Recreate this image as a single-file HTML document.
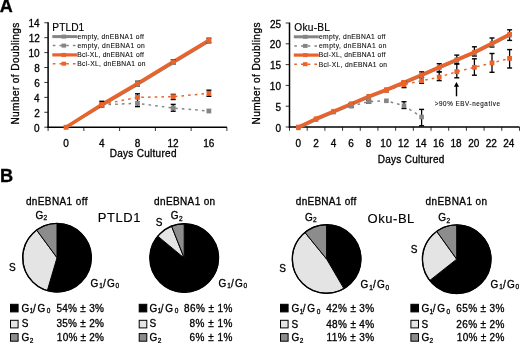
<!DOCTYPE html>
<html><head><meta charset="utf-8"><style>
html,body{margin:0;padding:0;background:#fff;}
body{width:520px;height:343px;overflow:hidden;font-family:"Liberation Sans", sans-serif;}
svg{display:block;will-change:transform;}
text{stroke:#000;stroke-width:0.3px;}
.sm{stroke-width:0.1px;fill:#111;}
.md{stroke-width:0.15px;}
</style></head><body>
<svg width="520" height="343" viewBox="0 0 520 343">
<rect width="520" height="343" fill="#fff"/>
<g font-family="&quot;Liberation Sans&quot;, sans-serif" fill="#000">
<text x="-0.25" y="12.40" font-size="18" font-weight="bold" >A</text>
<text x="-0.08" y="182.30" font-size="18.2" font-weight="bold" >B</text>
<line x1="48.10" y1="22.20" x2="48.10" y2="127.80" stroke="#000" stroke-width="1.5" />
<line x1="47.35" y1="127.20" x2="226.90" y2="127.20" stroke="#000" stroke-width="1.5" />
<line x1="44.30" y1="127.20" x2="48.10" y2="127.20" stroke="#000" stroke-width="0.8" />
<text x="39.66" y="131.70" font-size="10" text-anchor="end">0</text>
<line x1="44.30" y1="112.28" x2="48.10" y2="112.28" stroke="#000" stroke-width="0.8" />
<text x="39.81" y="116.78" font-size="10" text-anchor="end">2</text>
<line x1="44.30" y1="97.36" x2="48.10" y2="97.36" stroke="#000" stroke-width="0.8" />
<text x="39.61" y="101.86" font-size="10" text-anchor="end">4</text>
<line x1="44.30" y1="82.44" x2="48.10" y2="82.44" stroke="#000" stroke-width="0.8" />
<text x="39.71" y="86.94" font-size="10" text-anchor="end">6</text>
<line x1="44.30" y1="67.52" x2="48.10" y2="67.52" stroke="#000" stroke-width="0.8" />
<text x="39.71" y="72.02" font-size="10" text-anchor="end">8</text>
<line x1="44.30" y1="52.60" x2="48.10" y2="52.60" stroke="#000" stroke-width="0.8" />
<text x="39.67" y="57.10" font-size="10" text-anchor="end">10</text>
<line x1="44.30" y1="37.68" x2="48.10" y2="37.68" stroke="#000" stroke-width="0.8" />
<text x="39.82" y="42.18" font-size="10" text-anchor="end">12</text>
<line x1="44.30" y1="22.76" x2="48.10" y2="22.76" stroke="#000" stroke-width="0.8" />
<text x="39.62" y="27.26" font-size="10" text-anchor="end">14</text>
<line x1="48.10" y1="127.20" x2="48.10" y2="131.00" stroke="#000" stroke-width="0.8" />
<line x1="83.86" y1="127.20" x2="83.86" y2="131.00" stroke="#000" stroke-width="0.8" />
<line x1="119.62" y1="127.20" x2="119.62" y2="131.00" stroke="#000" stroke-width="0.8" />
<line x1="155.38" y1="127.20" x2="155.38" y2="131.00" stroke="#000" stroke-width="0.8" />
<line x1="191.14" y1="127.20" x2="191.14" y2="131.00" stroke="#000" stroke-width="0.8" />
<line x1="226.90" y1="127.20" x2="226.90" y2="131.00" stroke="#000" stroke-width="0.8" />
<text x="66.08" y="147.30" font-size="10" text-anchor="middle">0</text>
<text x="101.86" y="147.30" font-size="10" text-anchor="middle">4</text>
<text x="137.48" y="147.30" font-size="10" text-anchor="middle">8</text>
<text x="173.09" y="147.30" font-size="10" text-anchor="middle">12</text>
<text x="208.74" y="147.30" font-size="10" text-anchor="middle">16</text>
<polyline points="66.10,127.20 101.80,105.57 137.50,84.68 173.20,62.89 208.90,41.48" fill="none" stroke="#858585" stroke-width="2.6" stroke-linejoin="round"/>
<polyline points="101.80,104.82 137.50,103.33 173.20,108.03 208.90,111.01" fill="none" stroke="#858585" stroke-width="1.5" stroke-dasharray="2.6 4.1" stroke-linejoin="round"/>
<polyline points="66.10,127.20 101.80,104.52 137.50,83.48 173.20,61.70 208.90,40.29" fill="none" stroke="#e9632a" stroke-width="3.4" stroke-linejoin="round"/>
<polyline points="101.80,104.52 137.50,97.36 173.20,96.69 208.90,93.33" fill="none" stroke="#e9632a" stroke-width="1.5" stroke-dasharray="2.6 4.1" stroke-linejoin="round"/>
<line x1="101.80" y1="101.30" x2="101.80" y2="107.20" stroke="#000" stroke-width="1.3" />
<line x1="99.30" y1="101.30" x2="104.30" y2="101.30" stroke="#000" stroke-width="1.4" />
<line x1="99.30" y1="107.20" x2="104.30" y2="107.20" stroke="#000" stroke-width="1.4" />
<line x1="137.50" y1="81.30" x2="137.50" y2="86.00" stroke="#000" stroke-width="1.3" />
<line x1="135.00" y1="81.30" x2="140.00" y2="81.30" stroke="#000" stroke-width="1.4" />
<line x1="135.00" y1="86.00" x2="140.00" y2="86.00" stroke="#000" stroke-width="1.4" />
<line x1="137.50" y1="93.80" x2="137.50" y2="106.60" stroke="#000" stroke-width="1.3" />
<line x1="135.00" y1="93.80" x2="140.00" y2="93.80" stroke="#000" stroke-width="1.4" />
<line x1="135.00" y1="106.60" x2="140.00" y2="106.60" stroke="#000" stroke-width="1.4" />
<line x1="173.20" y1="104.40" x2="173.20" y2="111.20" stroke="#000" stroke-width="1.3" />
<line x1="170.70" y1="104.40" x2="175.70" y2="104.40" stroke="#000" stroke-width="1.4" />
<line x1="170.70" y1="111.20" x2="175.70" y2="111.20" stroke="#000" stroke-width="1.4" />
<line x1="173.20" y1="94.40" x2="173.20" y2="99.50" stroke="#000" stroke-width="1.3" />
<line x1="170.70" y1="94.40" x2="175.70" y2="94.40" stroke="#000" stroke-width="1.4" />
<line x1="170.70" y1="99.50" x2="175.70" y2="99.50" stroke="#000" stroke-width="1.4" />
<line x1="173.20" y1="59.80" x2="173.20" y2="64.00" stroke="#000" stroke-width="1.3" />
<line x1="170.70" y1="59.80" x2="175.70" y2="59.80" stroke="#000" stroke-width="1.4" />
<line x1="170.70" y1="64.00" x2="175.70" y2="64.00" stroke="#000" stroke-width="1.4" />
<line x1="208.90" y1="38.30" x2="208.90" y2="42.70" stroke="#000" stroke-width="1.3" />
<line x1="206.40" y1="38.30" x2="211.40" y2="38.30" stroke="#000" stroke-width="1.4" />
<line x1="206.40" y1="42.70" x2="211.40" y2="42.70" stroke="#000" stroke-width="1.4" />
<line x1="208.90" y1="90.20" x2="208.90" y2="96.30" stroke="#000" stroke-width="1.3" />
<line x1="206.40" y1="90.20" x2="211.40" y2="90.20" stroke="#000" stroke-width="1.4" />
<line x1="206.40" y1="96.30" x2="211.40" y2="96.30" stroke="#000" stroke-width="1.4" />
<rect x="63.90" y="125.00" width="4.40" height="4.40" fill="#858585"/>
<rect x="99.60" y="103.37" width="4.40" height="4.40" fill="#858585"/>
<rect x="135.30" y="82.48" width="4.40" height="4.40" fill="#858585"/>
<rect x="171.00" y="60.69" width="4.40" height="4.40" fill="#858585"/>
<rect x="206.70" y="39.28" width="4.40" height="4.40" fill="#858585"/>
<rect x="99.40" y="102.42" width="4.80" height="4.80" fill="#858585"/>
<rect x="135.10" y="100.93" width="4.80" height="4.80" fill="#858585"/>
<rect x="170.80" y="105.63" width="4.80" height="4.80" fill="#858585"/>
<rect x="206.50" y="108.61" width="4.80" height="4.80" fill="#858585"/>
<rect x="63.70" y="124.80" width="4.80" height="4.80" fill="#e9632a"/>
<rect x="99.40" y="102.12" width="4.80" height="4.80" fill="#e9632a"/>
<rect x="135.10" y="81.08" width="4.80" height="4.80" fill="#e9632a"/>
<rect x="170.80" y="59.30" width="4.80" height="4.80" fill="#e9632a"/>
<rect x="206.50" y="37.89" width="4.80" height="4.80" fill="#e9632a"/>
<rect x="99.40" y="102.12" width="4.80" height="4.80" fill="#e9632a"/>
<rect x="135.10" y="94.96" width="4.80" height="4.80" fill="#e9632a"/>
<rect x="170.80" y="94.29" width="4.80" height="4.80" fill="#e9632a"/>
<rect x="206.50" y="90.93" width="4.80" height="4.80" fill="#e9632a"/>
<text x="52.28" y="30.90" font-size="10.2" textLength="32.00" lengthAdjust="spacing" class="md">PTLD1</text>
<line x1="52.30" y1="36.60" x2="77.30" y2="36.60" stroke="#858585" stroke-width="3.0" />
<rect x="61.50" y="34.60" width="4.60" height="4.00" fill="#858585"/>
<text x="77.43" y="38.60" font-size="6.7" textLength="66.45" lengthAdjust="spacing" class="sm">empty, dnEBNA1 off</text>
<line x1="52.80" y1="45.60" x2="77.30" y2="45.60" stroke="#858585" stroke-width="1.5" stroke-dasharray="2.6 4.1"/>
<rect x="61.50" y="43.60" width="4.60" height="4.00" fill="#858585"/>
<text x="77.43" y="47.60" font-size="6.7" textLength="67.41" lengthAdjust="spacing" class="sm">empty, dnEBNA1 on</text>
<line x1="52.30" y1="54.90" x2="77.30" y2="54.90" stroke="#e9632a" stroke-width="3.2" />
<rect x="61.50" y="52.90" width="4.60" height="4.00" fill="#e9632a"/>
<text x="77.16" y="56.80" font-size="6.7" textLength="66.63" lengthAdjust="spacing" class="sm">Bcl-XL, dnEBNA1 off</text>
<line x1="52.80" y1="63.70" x2="77.30" y2="63.70" stroke="#e9632a" stroke-width="1.5" stroke-dasharray="2.6 4.1"/>
<rect x="61.50" y="61.70" width="4.60" height="4.00" fill="#e9632a"/>
<text x="77.16" y="66.30" font-size="6.7" textLength="68.29" lengthAdjust="spacing" class="sm">Bcl-XL, dnEBNA1 on</text>
<text x="0" y="0" font-size="10.1" textLength="101.95" lengthAdjust="spacing" transform="translate(18.70,124.61) rotate(-90)">Number of Doublings</text>
<text x="109.70" y="157.30" font-size="10" textLength="66.76" lengthAdjust="spacing" >Days Cultured</text>
<line x1="289.50" y1="22.60" x2="289.50" y2="127.60" stroke="#000" stroke-width="1.5" />
<line x1="288.75" y1="127.00" x2="519.47" y2="127.00" stroke="#000" stroke-width="1.5" />
<line x1="285.70" y1="127.00" x2="289.50" y2="127.00" stroke="#000" stroke-width="0.8" />
<text x="280.96" y="131.50" font-size="10" text-anchor="end">0</text>
<line x1="285.70" y1="106.20" x2="289.50" y2="106.20" stroke="#000" stroke-width="0.8" />
<text x="281.01" y="110.70" font-size="10" text-anchor="end">5</text>
<line x1="285.70" y1="85.40" x2="289.50" y2="85.40" stroke="#000" stroke-width="0.8" />
<text x="280.97" y="89.90" font-size="10" text-anchor="end">10</text>
<line x1="285.70" y1="64.60" x2="289.50" y2="64.60" stroke="#000" stroke-width="0.8" />
<text x="281.02" y="69.10" font-size="10" text-anchor="end">15</text>
<line x1="285.70" y1="43.80" x2="289.50" y2="43.80" stroke="#000" stroke-width="0.8" />
<text x="280.97" y="48.30" font-size="10" text-anchor="end">20</text>
<line x1="285.70" y1="23.00" x2="289.50" y2="23.00" stroke="#000" stroke-width="0.8" />
<text x="281.02" y="27.50" font-size="10" text-anchor="end">25</text>
<line x1="289.50" y1="127.00" x2="289.50" y2="130.80" stroke="#000" stroke-width="0.8" />
<line x1="307.19" y1="127.00" x2="307.19" y2="130.80" stroke="#000" stroke-width="0.8" />
<line x1="324.88" y1="127.00" x2="324.88" y2="130.80" stroke="#000" stroke-width="0.8" />
<line x1="342.57" y1="127.00" x2="342.57" y2="130.80" stroke="#000" stroke-width="0.8" />
<line x1="360.26" y1="127.00" x2="360.26" y2="130.80" stroke="#000" stroke-width="0.8" />
<line x1="377.95" y1="127.00" x2="377.95" y2="130.80" stroke="#000" stroke-width="0.8" />
<line x1="395.64" y1="127.00" x2="395.64" y2="130.80" stroke="#000" stroke-width="0.8" />
<line x1="413.33" y1="127.00" x2="413.33" y2="130.80" stroke="#000" stroke-width="0.8" />
<line x1="431.02" y1="127.00" x2="431.02" y2="130.80" stroke="#000" stroke-width="0.8" />
<line x1="448.71" y1="127.00" x2="448.71" y2="130.80" stroke="#000" stroke-width="0.8" />
<line x1="466.40" y1="127.00" x2="466.40" y2="130.80" stroke="#000" stroke-width="0.8" />
<line x1="484.09" y1="127.00" x2="484.09" y2="130.80" stroke="#000" stroke-width="0.8" />
<line x1="501.78" y1="127.00" x2="501.78" y2="130.80" stroke="#000" stroke-width="0.8" />
<line x1="519.47" y1="127.00" x2="519.47" y2="130.80" stroke="#000" stroke-width="0.8" />
<text x="298.38" y="147.30" font-size="10" text-anchor="middle">0</text>
<text x="315.95" y="147.30" font-size="10" text-anchor="middle">2</text>
<text x="333.54" y="147.30" font-size="10" text-anchor="middle">4</text>
<text x="350.98" y="147.30" font-size="10" text-anchor="middle">6</text>
<text x="368.54" y="147.30" font-size="10" text-anchor="middle">8</text>
<text x="385.91" y="147.30" font-size="10" text-anchor="middle">10</text>
<text x="403.53" y="147.30" font-size="10" text-anchor="middle">12</text>
<text x="420.97" y="147.30" font-size="10" text-anchor="middle">14</text>
<text x="438.56" y="147.30" font-size="10" text-anchor="middle">16</text>
<text x="456.10" y="147.30" font-size="10" text-anchor="middle">18</text>
<text x="473.74" y="147.30" font-size="10" text-anchor="middle">20</text>
<text x="491.35" y="147.30" font-size="10" text-anchor="middle">22</text>
<text x="508.79" y="147.30" font-size="10" text-anchor="middle">24</text>
<polyline points="298.40,128.04 316.00,119.72 333.60,112.23 351.20,104.74 368.80,97.26 386.40,90.60 404.00,83.32 421.60,75.83 439.20,68.14 456.80,60.65 474.40,53.16 492.00,44.42 509.60,35.27" fill="none" stroke="#858585" stroke-width="2.6" stroke-linejoin="round"/>
<polyline points="351.20,106.20 368.80,101.62 386.40,100.79 404.00,105.78 421.60,117.02" fill="none" stroke="#858585" stroke-width="1.5" stroke-dasharray="2.6 4.1" stroke-linejoin="round"/>
<polyline points="298.40,127.00 316.00,118.68 333.60,111.19 351.20,103.70 368.80,96.22 386.40,89.56 404.00,82.28 421.60,74.79 439.20,67.10 456.80,59.61 474.40,52.12 492.00,43.38 509.60,34.23" fill="none" stroke="#e9632a" stroke-width="3.4" stroke-linejoin="round"/>
<polyline points="386.40,90.39 404.00,84.57 421.60,80.82 439.20,77.08 456.80,71.67 474.40,67.30 492.00,62.94 509.60,58.36" fill="none" stroke="#e9632a" stroke-width="1.5" stroke-dasharray="2.6 4.1" stroke-linejoin="round"/>
<line x1="351.20" y1="103.20" x2="351.20" y2="107.20" stroke="#000" stroke-width="1.3" />
<line x1="348.70" y1="103.20" x2="353.70" y2="103.20" stroke="#000" stroke-width="1.4" />
<line x1="348.70" y1="107.20" x2="353.70" y2="107.20" stroke="#000" stroke-width="1.4" />
<line x1="368.80" y1="100.30" x2="368.80" y2="103.20" stroke="#000" stroke-width="1.3" />
<line x1="366.30" y1="100.30" x2="371.30" y2="100.30" stroke="#000" stroke-width="1.4" />
<line x1="366.30" y1="103.20" x2="371.30" y2="103.20" stroke="#000" stroke-width="1.4" />
<line x1="404.00" y1="101.70" x2="404.00" y2="108.50" stroke="#000" stroke-width="1.3" />
<line x1="401.50" y1="101.70" x2="406.50" y2="101.70" stroke="#000" stroke-width="1.4" />
<line x1="401.50" y1="108.50" x2="406.50" y2="108.50" stroke="#000" stroke-width="1.4" />
<line x1="421.60" y1="109.40" x2="421.60" y2="125.80" stroke="#000" stroke-width="1.3" />
<line x1="419.10" y1="109.40" x2="424.10" y2="109.40" stroke="#000" stroke-width="1.4" />
<line x1="419.10" y1="125.80" x2="424.10" y2="125.80" stroke="#000" stroke-width="1.4" />
<line x1="404.00" y1="81.20" x2="404.00" y2="87.60" stroke="#000" stroke-width="1.3" />
<line x1="401.50" y1="81.20" x2="406.50" y2="81.20" stroke="#000" stroke-width="1.4" />
<line x1="401.50" y1="87.60" x2="406.50" y2="87.60" stroke="#000" stroke-width="1.4" />
<line x1="421.60" y1="71.90" x2="421.60" y2="77.50" stroke="#000" stroke-width="1.3" />
<line x1="419.10" y1="71.90" x2="424.10" y2="71.90" stroke="#000" stroke-width="1.4" />
<line x1="419.10" y1="77.50" x2="424.10" y2="77.50" stroke="#000" stroke-width="1.4" />
<line x1="421.60" y1="77.50" x2="421.60" y2="83.30" stroke="#000" stroke-width="1.3" />
<line x1="419.10" y1="77.50" x2="424.10" y2="77.50" stroke="#000" stroke-width="1.4" />
<line x1="419.10" y1="83.30" x2="424.10" y2="83.30" stroke="#000" stroke-width="1.4" />
<line x1="439.20" y1="63.70" x2="439.20" y2="71.90" stroke="#000" stroke-width="1.3" />
<line x1="436.70" y1="63.70" x2="441.70" y2="63.70" stroke="#000" stroke-width="1.4" />
<line x1="436.70" y1="71.90" x2="441.70" y2="71.90" stroke="#000" stroke-width="1.4" />
<line x1="439.20" y1="71.90" x2="439.20" y2="80.60" stroke="#000" stroke-width="1.3" />
<line x1="436.70" y1="71.90" x2="441.70" y2="71.90" stroke="#000" stroke-width="1.4" />
<line x1="436.70" y1="80.60" x2="441.70" y2="80.60" stroke="#000" stroke-width="1.4" />
<line x1="456.80" y1="55.10" x2="456.80" y2="63.90" stroke="#000" stroke-width="1.3" />
<line x1="454.30" y1="55.10" x2="459.30" y2="55.10" stroke="#000" stroke-width="1.4" />
<line x1="454.30" y1="63.90" x2="459.30" y2="63.90" stroke="#000" stroke-width="1.4" />
<line x1="456.80" y1="63.90" x2="456.80" y2="77.80" stroke="#000" stroke-width="1.3" />
<line x1="454.30" y1="63.90" x2="459.30" y2="63.90" stroke="#000" stroke-width="1.4" />
<line x1="454.30" y1="77.80" x2="459.30" y2="77.80" stroke="#000" stroke-width="1.4" />
<line x1="474.40" y1="46.80" x2="474.40" y2="56.00" stroke="#000" stroke-width="1.3" />
<line x1="471.90" y1="46.80" x2="476.90" y2="46.80" stroke="#000" stroke-width="1.4" />
<line x1="471.90" y1="56.00" x2="476.90" y2="56.00" stroke="#000" stroke-width="1.4" />
<line x1="474.40" y1="58.80" x2="474.40" y2="75.20" stroke="#000" stroke-width="1.3" />
<line x1="471.90" y1="58.80" x2="476.90" y2="58.80" stroke="#000" stroke-width="1.4" />
<line x1="471.90" y1="75.20" x2="476.90" y2="75.20" stroke="#000" stroke-width="1.4" />
<line x1="492.00" y1="38.00" x2="492.00" y2="47.00" stroke="#000" stroke-width="1.3" />
<line x1="489.50" y1="38.00" x2="494.50" y2="38.00" stroke="#000" stroke-width="1.4" />
<line x1="489.50" y1="47.00" x2="494.50" y2="47.00" stroke="#000" stroke-width="1.4" />
<line x1="492.00" y1="53.50" x2="492.00" y2="72.30" stroke="#000" stroke-width="1.3" />
<line x1="489.50" y1="53.50" x2="494.50" y2="53.50" stroke="#000" stroke-width="1.4" />
<line x1="489.50" y1="72.30" x2="494.50" y2="72.30" stroke="#000" stroke-width="1.4" />
<line x1="509.60" y1="29.80" x2="509.60" y2="40.40" stroke="#000" stroke-width="1.3" />
<line x1="507.10" y1="29.80" x2="512.10" y2="29.80" stroke="#000" stroke-width="1.4" />
<line x1="507.10" y1="40.40" x2="512.10" y2="40.40" stroke="#000" stroke-width="1.4" />
<line x1="509.60" y1="49.60" x2="509.60" y2="68.00" stroke="#000" stroke-width="1.3" />
<line x1="507.10" y1="49.60" x2="512.10" y2="49.60" stroke="#000" stroke-width="1.4" />
<line x1="507.10" y1="68.00" x2="512.10" y2="68.00" stroke="#000" stroke-width="1.4" />
<rect x="296.20" y="125.84" width="4.40" height="4.40" fill="#858585"/>
<rect x="313.80" y="117.52" width="4.40" height="4.40" fill="#858585"/>
<rect x="331.40" y="110.03" width="4.40" height="4.40" fill="#858585"/>
<rect x="349.00" y="102.54" width="4.40" height="4.40" fill="#858585"/>
<rect x="366.60" y="95.06" width="4.40" height="4.40" fill="#858585"/>
<rect x="384.20" y="88.40" width="4.40" height="4.40" fill="#858585"/>
<rect x="401.80" y="81.12" width="4.40" height="4.40" fill="#858585"/>
<rect x="419.40" y="73.63" width="4.40" height="4.40" fill="#858585"/>
<rect x="437.00" y="65.94" width="4.40" height="4.40" fill="#858585"/>
<rect x="454.60" y="58.45" width="4.40" height="4.40" fill="#858585"/>
<rect x="472.20" y="50.96" width="4.40" height="4.40" fill="#858585"/>
<rect x="489.80" y="42.22" width="4.40" height="4.40" fill="#858585"/>
<rect x="507.40" y="33.07" width="4.40" height="4.40" fill="#858585"/>
<rect x="348.90" y="103.90" width="4.60" height="4.60" fill="#858585"/>
<rect x="366.50" y="99.32" width="4.60" height="4.60" fill="#858585"/>
<rect x="384.10" y="98.49" width="4.60" height="4.60" fill="#858585"/>
<rect x="401.70" y="103.48" width="4.60" height="4.60" fill="#858585"/>
<rect x="419.30" y="114.72" width="4.60" height="4.60" fill="#858585"/>
<rect x="296.10" y="124.70" width="4.60" height="4.60" fill="#e9632a"/>
<rect x="313.70" y="116.38" width="4.60" height="4.60" fill="#e9632a"/>
<rect x="331.30" y="108.89" width="4.60" height="4.60" fill="#e9632a"/>
<rect x="348.90" y="101.40" width="4.60" height="4.60" fill="#e9632a"/>
<rect x="366.50" y="93.92" width="4.60" height="4.60" fill="#e9632a"/>
<rect x="384.10" y="87.26" width="4.60" height="4.60" fill="#e9632a"/>
<rect x="401.70" y="79.98" width="4.60" height="4.60" fill="#e9632a"/>
<rect x="419.30" y="72.49" width="4.60" height="4.60" fill="#e9632a"/>
<rect x="436.90" y="64.80" width="4.60" height="4.60" fill="#e9632a"/>
<rect x="454.50" y="57.31" width="4.60" height="4.60" fill="#e9632a"/>
<rect x="472.10" y="49.82" width="4.60" height="4.60" fill="#e9632a"/>
<rect x="489.70" y="41.08" width="4.60" height="4.60" fill="#e9632a"/>
<rect x="507.30" y="31.93" width="4.60" height="4.60" fill="#e9632a"/>
<rect x="384.00" y="87.99" width="4.80" height="4.80" fill="#e9632a"/>
<rect x="401.60" y="82.17" width="4.80" height="4.80" fill="#e9632a"/>
<rect x="419.20" y="78.42" width="4.80" height="4.80" fill="#e9632a"/>
<rect x="436.80" y="74.68" width="4.80" height="4.80" fill="#e9632a"/>
<rect x="454.40" y="69.27" width="4.80" height="4.80" fill="#e9632a"/>
<rect x="472.00" y="64.90" width="4.80" height="4.80" fill="#e9632a"/>
<rect x="489.60" y="60.54" width="4.80" height="4.80" fill="#e9632a"/>
<rect x="507.20" y="55.96" width="4.80" height="4.80" fill="#e9632a"/>
<text x="294.24" y="30.90" font-size="10.2" textLength="35.77" lengthAdjust="spacing" class="md">Oku-BL</text>
<line x1="293.80" y1="36.80" x2="318.80" y2="36.80" stroke="#858585" stroke-width="3.0" />
<rect x="303.00" y="34.80" width="4.60" height="4.00" fill="#858585"/>
<text x="318.93" y="38.80" font-size="6.7" textLength="66.55" lengthAdjust="spacing" class="sm">empty, dnEBNA1 off</text>
<line x1="294.30" y1="45.90" x2="318.80" y2="45.90" stroke="#858585" stroke-width="1.5" stroke-dasharray="2.6 4.1"/>
<rect x="303.00" y="43.90" width="4.60" height="4.00" fill="#858585"/>
<text x="318.93" y="47.80" font-size="6.7" textLength="67.51" lengthAdjust="spacing" class="sm">empty, dnEBNA1 on</text>
<line x1="293.80" y1="55.10" x2="318.80" y2="55.10" stroke="#e9632a" stroke-width="3.2" />
<rect x="303.00" y="53.10" width="4.60" height="4.00" fill="#e9632a"/>
<text x="318.66" y="57.00" font-size="6.7" textLength="66.83" lengthAdjust="spacing" class="sm">Bcl-XL, dnEBNA1 off</text>
<line x1="294.30" y1="64.20" x2="318.80" y2="64.20" stroke="#e9632a" stroke-width="1.5" stroke-dasharray="2.6 4.1"/>
<rect x="303.00" y="62.20" width="4.60" height="4.00" fill="#e9632a"/>
<text x="318.66" y="66.50" font-size="6.7" textLength="68.29" lengthAdjust="spacing" class="sm">Bcl-XL, dnEBNA1 on</text>
<text x="0" y="0" font-size="10.1" textLength="101.95" lengthAdjust="spacing" transform="translate(260.00,124.51) rotate(-90)">Number of Doublings</text>
<text x="377.70" y="162.50" font-size="10" textLength="66.66" lengthAdjust="spacing" >Days Cultured</text>
<line x1="456.50" y1="85.50" x2="456.50" y2="96.30" stroke="#000" stroke-width="1.4" />
<path d="M453.9,86.8 L456.5,82.0 L459.1,86.8 Z" fill="#000"/>
<text x="434.79" y="105.60" font-size="6.3" textLength="65.12" lengthAdjust="spacing" class="sm">&gt;90% EBV-negative</text>
<path d="M57.00,257.70 L57.00,223.40 A34.3,34.3 0 1 1 47.34,290.61 Z" fill="#000" stroke="#000" stroke-width="1" stroke-linejoin="round"/>
<path d="M57.00,257.70 L47.34,290.61 A34.3,34.3 0 0 1 36.66,230.08 Z" fill="#e4e4e4" stroke="#000" stroke-width="1" stroke-linejoin="round"/>
<path d="M57.00,257.70 L36.66,230.08 A34.3,34.3 0 0 1 57.00,223.40 Z" fill="#8c8c8c" stroke="#000" stroke-width="1" stroke-linejoin="round"/>
<circle cx="57.0" cy="257.7" r="34.3" fill="none" stroke="#000" stroke-width="1.4"/>
<path d="M184.20,258.05 L184.20,223.75 A34.3,34.3 0 1 1 157.77,236.19 Z" fill="#000" stroke="#000" stroke-width="1" stroke-linejoin="round"/>
<path d="M184.20,258.05 L157.77,236.19 A34.3,34.3 0 0 1 171.57,226.16 Z" fill="#e4e4e4" stroke="#000" stroke-width="1" stroke-linejoin="round"/>
<path d="M184.20,258.05 L171.57,226.16 A34.3,34.3 0 0 1 184.20,223.75 Z" fill="#8c8c8c" stroke="#000" stroke-width="1" stroke-linejoin="round"/>
<circle cx="184.2" cy="258.05" r="34.3" fill="none" stroke="#000" stroke-width="1.4"/>
<path d="M326.60,259.00 L326.60,224.70 A34.3,34.3 0 0 1 343.90,288.62 Z" fill="#000" stroke="#000" stroke-width="1" stroke-linejoin="round"/>
<path d="M326.60,259.00 L343.90,288.62 A34.3,34.3 0 0 1 304.92,232.42 Z" fill="#e4e4e4" stroke="#000" stroke-width="1" stroke-linejoin="round"/>
<path d="M326.60,259.00 L304.92,232.42 A34.3,34.3 0 0 1 326.60,224.70 Z" fill="#8c8c8c" stroke="#000" stroke-width="1" stroke-linejoin="round"/>
<circle cx="326.6" cy="259.0" r="34.3" fill="none" stroke="#000" stroke-width="1.4"/>
<path d="M456.70,259.20 L456.70,224.90 A34.3,34.3 0 1 1 429.79,280.47 Z" fill="#000" stroke="#000" stroke-width="1" stroke-linejoin="round"/>
<path d="M456.70,259.20 L429.79,280.47 A34.3,34.3 0 0 1 436.71,231.33 Z" fill="#e4e4e4" stroke="#000" stroke-width="1" stroke-linejoin="round"/>
<path d="M456.70,259.20 L436.71,231.33 A34.3,34.3 0 0 1 456.70,224.90 Z" fill="#8c8c8c" stroke="#000" stroke-width="1" stroke-linejoin="round"/>
<circle cx="456.7" cy="259.2" r="34.3" fill="none" stroke="#000" stroke-width="1.4"/>
<text x="25.90" y="205.00" font-size="10" textLength="61.58" lengthAdjust="spacing" >dnEBNA1 off</text>
<text x="154.10" y="205.00" font-size="10" textLength="61.07" lengthAdjust="spacing" >dnEBNA1 on</text>
<text x="295.80" y="205.40" font-size="10" textLength="60.38" lengthAdjust="spacing" >dnEBNA1 off</text>
<text x="425.50" y="205.40" font-size="10" textLength="61.67" lengthAdjust="spacing" >dnEBNA1 on</text>
<text x="97.66" y="221.80" font-size="13" textLength="42.76" lengthAdjust="spacing" class="md">PTLD1</text>
<text x="367.62" y="222.90" font-size="13" textLength="46.68" lengthAdjust="spacing" class="md">Oku-BL</text>
<text><tspan x="35.40" y="219.00" font-size="10">G</tspan><tspan x="43.57" y="220.40" font-size="6.5">2</tspan></text>
<text x="9.05" y="271.30" font-size="10" >S</text>
<text><tspan x="90.50" y="286.60" font-size="10">G</tspan><tspan x="99.21" y="288.00" font-size="6.5">1</tspan><tspan x="103.00" y="286.60" font-size="10">/</tspan><tspan x="107.00" y="286.60" font-size="10">G</tspan><tspan x="115.44" y="288.00" font-size="6.5">0</tspan></text>
<text><tspan x="170.70" y="219.10" font-size="10">G</tspan><tspan x="178.88" y="220.50" font-size="6.5">2</tspan></text>
<text x="155.75" y="226.40" font-size="10" >S</text>
<text><tspan x="218.50" y="286.60" font-size="10">G</tspan><tspan x="227.21" y="288.00" font-size="6.5">1</tspan><tspan x="231.00" y="286.60" font-size="10">/</tspan><tspan x="235.00" y="286.60" font-size="10">G</tspan><tspan x="243.44" y="288.00" font-size="6.5">0</tspan></text>
<text><tspan x="304.90" y="220.50" font-size="10">G</tspan><tspan x="313.07" y="221.90" font-size="6.5">2</tspan></text>
<text x="279.15" y="271.60" font-size="10" >S</text>
<text><tspan x="360.50" y="288.10" font-size="10">G</tspan><tspan x="369.21" y="289.50" font-size="6.5">1</tspan><tspan x="373.00" y="288.10" font-size="10">/</tspan><tspan x="377.00" y="288.10" font-size="10">G</tspan><tspan x="385.44" y="289.50" font-size="6.5">0</tspan></text>
<text><tspan x="438.30" y="221.30" font-size="10">G</tspan><tspan x="446.48" y="222.70" font-size="6.5">2</tspan></text>
<text x="410.65" y="252.60" font-size="10" >S</text>
<text><tspan x="490.60" y="287.80" font-size="10">G</tspan><tspan x="499.31" y="289.20" font-size="6.5">1</tspan><tspan x="503.10" y="287.80" font-size="10">/</tspan><tspan x="507.10" y="287.80" font-size="10">G</tspan><tspan x="515.54" y="289.20" font-size="6.5">0</tspan></text>
<rect x="10.50" y="304.30" width="7.60" height="7.60" fill="#000" stroke="#000" stroke-width="1"/>
<text><tspan x="21.60" y="311.50" font-size="10">G</tspan><tspan x="29.81" y="312.90" font-size="6.5">1</tspan><tspan x="32.90" y="311.50" font-size="10">/</tspan><tspan x="37.40" y="311.50" font-size="10">G</tspan><tspan x="46.74" y="312.90" font-size="6.5">0</tspan></text>
<text x="56.40" y="311.50" font-size="10" textLength="47.56" lengthAdjust="spacing" >54% ± 3%</text>
<rect x="10.50" y="320.30" width="7.60" height="7.60" fill="#e4e4e4" stroke="#000" stroke-width="1"/>
<text x="21.65" y="327.30" font-size="10" >S</text>
<text x="56.40" y="327.30" font-size="10" textLength="47.56" lengthAdjust="spacing" >35% ± 2%</text>
<rect x="10.50" y="333.60" width="7.60" height="7.60" fill="#8c8c8c" stroke="#000" stroke-width="1"/>
<text><tspan x="21.60" y="341.40" font-size="10">G</tspan><tspan x="29.78" y="342.80" font-size="6.5">2</tspan></text>
<text x="56.85" y="341.40" font-size="10" textLength="47.11" lengthAdjust="spacing" >10% ± 2%</text>
<rect x="139.20" y="304.30" width="7.60" height="7.60" fill="#000" stroke="#000" stroke-width="1"/>
<text><tspan x="149.50" y="311.80" font-size="10">G</tspan><tspan x="157.71" y="313.20" font-size="6.5">1</tspan><tspan x="160.80" y="311.80" font-size="10">/</tspan><tspan x="165.30" y="311.80" font-size="10">G</tspan><tspan x="174.64" y="313.20" font-size="6.5">0</tspan></text>
<text x="183.95" y="311.80" font-size="10" textLength="48.41" lengthAdjust="spacing" >86% ± 1%</text>
<rect x="139.20" y="320.30" width="7.60" height="7.60" fill="#e4e4e4" stroke="#000" stroke-width="1"/>
<text x="149.55" y="327.40" font-size="10" >S</text>
<text x="189.55" y="327.40" font-size="10" textLength="42.80" lengthAdjust="spacing" >8% ± 1%</text>
<rect x="139.20" y="333.60" width="7.60" height="7.60" fill="#8c8c8c" stroke="#000" stroke-width="1"/>
<text><tspan x="149.50" y="341.40" font-size="10">G</tspan><tspan x="157.68" y="342.80" font-size="6.5">2</tspan></text>
<text x="189.50" y="341.40" font-size="10" textLength="42.85" lengthAdjust="spacing" >6% ± 1%</text>
<rect x="280.50" y="304.30" width="7.60" height="7.60" fill="#000" stroke="#000" stroke-width="1"/>
<text><tspan x="291.50" y="312.40" font-size="10">G</tspan><tspan x="299.71" y="313.80" font-size="6.5">1</tspan><tspan x="302.80" y="312.40" font-size="10">/</tspan><tspan x="307.30" y="312.40" font-size="10">G</tspan><tspan x="316.64" y="313.80" font-size="6.5">0</tspan></text>
<text x="326.20" y="312.40" font-size="10" textLength="47.96" lengthAdjust="spacing" >42% ± 3%</text>
<rect x="280.50" y="320.30" width="7.60" height="7.60" fill="#e4e4e4" stroke="#000" stroke-width="1"/>
<text x="291.55" y="327.70" font-size="10" >S</text>
<text x="326.20" y="327.70" font-size="10" textLength="47.96" lengthAdjust="spacing" >48% ± 4%</text>
<rect x="280.50" y="333.60" width="7.60" height="7.60" fill="#8c8c8c" stroke="#000" stroke-width="1"/>
<text><tspan x="291.50" y="341.40" font-size="10">G</tspan><tspan x="299.68" y="342.80" font-size="6.5">2</tspan></text>
<text x="326.55" y="341.40" font-size="10" textLength="47.57" lengthAdjust="spacing" >11% ± 3%</text>
<rect x="410.90" y="304.30" width="7.60" height="7.60" fill="#000" stroke="#000" stroke-width="1"/>
<text><tspan x="421.40" y="312.40" font-size="10">G</tspan><tspan x="429.61" y="313.80" font-size="6.5">1</tspan><tspan x="432.70" y="312.40" font-size="10">/</tspan><tspan x="437.20" y="312.40" font-size="10">G</tspan><tspan x="446.54" y="313.80" font-size="6.5">0</tspan></text>
<text x="456.30" y="312.40" font-size="10" textLength="48.06" lengthAdjust="spacing" >65% ± 3%</text>
<rect x="410.90" y="320.30" width="7.60" height="7.60" fill="#e4e4e4" stroke="#000" stroke-width="1"/>
<text x="421.45" y="327.60" font-size="10" >S</text>
<text x="456.30" y="327.60" font-size="10" textLength="48.06" lengthAdjust="spacing" >26% ± 2%</text>
<rect x="410.90" y="333.60" width="7.60" height="7.60" fill="#8c8c8c" stroke="#000" stroke-width="1"/>
<text><tspan x="421.40" y="341.40" font-size="10">G</tspan><tspan x="429.57" y="342.80" font-size="6.5">2</tspan></text>
<text x="456.85" y="341.40" font-size="10" textLength="47.51" lengthAdjust="spacing" >10% ± 2%</text>
</g></svg>
</body></html>
